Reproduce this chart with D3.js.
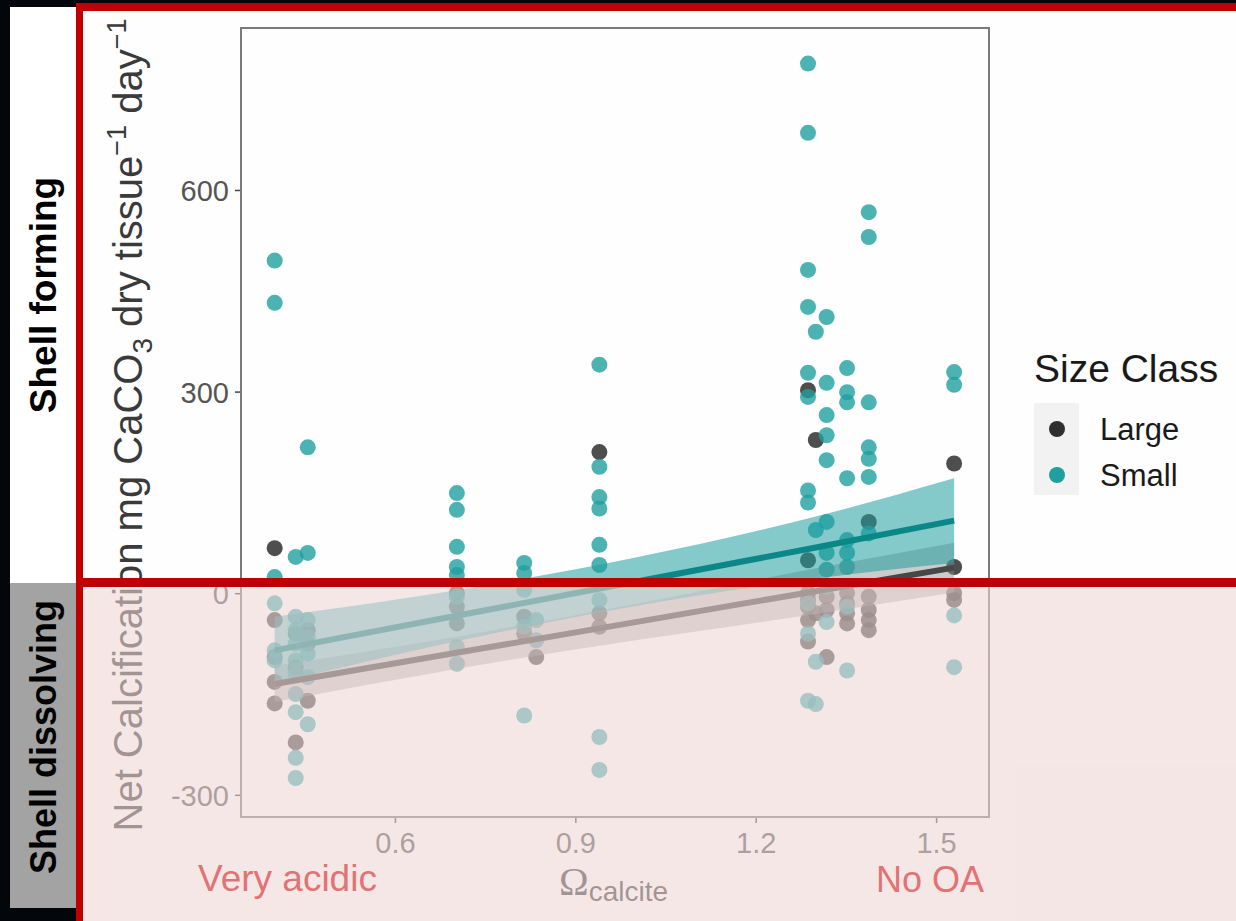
<!DOCTYPE html>
<html>
<head>
<meta charset="utf-8">
<script src="https://cdn.jsdelivr.net/npm/d3@7"></script>
<style>
  body { margin: 0; background: #03060a; }
  svg { display: block; }
</style>
</head>
<body>
<svg id="chart" width="1236" height="921"></svg>
<script>
const largeObs = [
  [0.40, 67], [0.40, -40], [0.40, -95], [0.40, -132], [0.40, -164],
  [0.435, -60], [0.435, -110], [0.435, -222],
  [0.455, -55], [0.455, -75], [0.455, -160],
  [0.703, 0], [0.703, -20], [0.703, -45],
  [0.815, -35], [0.815, -60],
  [0.835, -95],
  [0.94, 210], [0.94, -30], [0.94, -50],
  [1.287, 302], [1.287, 49], [1.287, 0], [1.287, -10], [1.287, -20], [1.287, -40], [1.287, -72],
  [1.30, 228], [1.30, -30],
  [1.318, -95], [1.318, -25], [1.318, -5],
  [1.352, -45], [1.352, -30], [1.352, -15], [1.352, 0],
  [1.388, 106], [1.388, -40], [1.388, -55], [1.388, -25], [1.388, -5],
  [1.53, 193], [1.53, 39], [1.53, 0], [1.53, -10]
];

const smallObs = [
  [0.40, 495], [0.40, 432], [0.40, 24], [0.40, -15], [0.40, -85], [0.40, -100],
  [0.435, 54], [0.435, -35], [0.435, -55], [0.435, -75], [0.435, -100], [0.435, -120],
  [0.435, -150], [0.435, -177], [0.435, -245], [0.435, -275],
  [0.455, 217], [0.455, 60], [0.455, -40], [0.455, -65], [0.455, -90], [0.455, -125], [0.455, -195],
  [0.703, 149], [0.703, 124], [0.703, 69], [0.703, 39], [0.703, 27], [0.703, -5], [0.703, -80], [0.703, -105],
  [0.815, 45], [0.815, 30], [0.815, 5], [0.815, -50], [0.815, -182],
  [0.835, -40], [0.835, -70],
  [0.94, 340], [0.94, 188], [0.94, 143], [0.94, 126], [0.94, 72], [0.94, 42], [0.94, -10], [0.94, -214], [0.94, -263],
  [1.287, 788], [1.287, 685], [1.287, 481], [1.287, 426], [1.287, 328], [1.287, 292],
  [1.287, 153], [1.287, 135], [1.287, -15], [1.287, -60], [1.287, -160],
  [1.30, 389], [1.30, 94], [1.30, -102], [1.30, -165],
  [1.318, 411], [1.318, 313], [1.318, 265], [1.318, 235], [1.318, 198], [1.318, 106],
  [1.318, 60], [1.318, 35], [1.318, 10], [1.318, -43],
  [1.352, 335], [1.352, 299], [1.352, 284], [1.352, 171], [1.352, 79], [1.352, 60], [1.352, 39], [1.352, -20], [1.352, -115],
  [1.388, 567], [1.388, 530], [1.388, 284], [1.388, 217], [1.388, 200], [1.388, 173], [1.388, 89],
  [1.53, 329], [1.53, 310], [1.53, -33], [1.53, -110]
];

// fitted lines and confidence bands
const fitOmega = [0.40, 0.70, 1.00, 1.30, 1.53];
const smallFit = [-85, -34, 17, 68, 108];
const smallLow = [-135, -72, -19, 22, 45];
const smallHigh = [-35, 4, 53, 114, 171];
const largeFit = [-135, -89, -43, 3, 38];
const largeLow = [-162, -113, -70, -31, 1];
const largeHigh = [-108, -65, -16, 37, 75];

const xTicks = [0.6, 0.9, 1.2, 1.5];
const yTicks = [-300, 0, 300, 600];
const sizeClasses = ["Large", "Small"];
const classColors = { Large: "#2f2f2f", Small: "#1f9f9f" };
const lineColors = { Large: "#474747", Small: "#0b8787" };

const sans = "'Liberation Sans', Arial, sans-serif";
const svg = d3.select("#chart");

// ---- page frame: left strip and red box ----
svg.append("rect").attr("x", 10).attr("y", 7).attr("width", 66).attr("height", 576).attr("fill", "#ffffff");
svg.append("rect").attr("x", 10).attr("y", 583).attr("width", 66).attr("height", 325).attr("fill", "#a3a3a3");
svg.append("rect").attr("x", 83).attr("y", 11).attr("width", 1153).attr("height", 910).attr("fill", "#fefefe");

svg.append("text")
  .attr("transform", "translate(56,295) rotate(-90)")
  .attr("text-anchor", "middle")
  .style("font-family", sans).style("font-weight", "bold").style("font-size", "37px")
  .attr("fill", "#000").text("Shell forming");
svg.append("text")
  .attr("transform", "translate(56,737) rotate(-90)")
  .attr("text-anchor", "middle")
  .style("font-family", sans).style("font-weight", "bold").style("font-size", "36px")
  .attr("fill", "#000").text("Shell dissolving");

// ---- scales ----
const x = d3.scaleLinear().domain([0.344, 1.588]).range([241, 989]);
const y = d3.scaleLinear().domain([-333, 841]).range([817, 28]);

const plot = svg.append("g");

// axes
const yAxis = plot.append("g")
  .attr("transform", "translate(241,0)")
  .call(d3.axisLeft(y).tickValues(yTicks).tickSize(6).tickPadding(6).tickFormat(d => String(d)));
const xAxis = plot.append("g")
  .attr("transform", "translate(0,817)")
  .call(d3.axisBottom(x).tickValues(xTicks).tickSize(6).tickPadding(9).tickFormat(d3.format(".1f")));
[xAxis, yAxis].forEach(ax => {
  ax.select(".domain").remove();
  ax.selectAll(".tick line").attr("stroke", "#444").attr("stroke-width", 1.5);
  ax.selectAll(".tick text").attr("fill", "#555").style("font-family", sans).style("font-size", "29px");
});
yAxis.selectAll(".tick text").attr("dy", "0.36em");

// points
svg.append("defs").append("clipPath").attr("id", "panel")
  .append("rect").attr("x", 241).attr("y", 28).attr("width", 748).attr("height", 789);
const marks = plot.append("g").attr("clip-path", "url(#panel)");

marks.selectAll("circle.large").data(largeObs).join("circle")
  .attr("class", "large")
  .attr("cx", d => x(d[0])).attr("cy", d => y(d[1])).attr("r", 8)
  .attr("fill", classColors.Large).attr("fill-opacity", 0.85);
marks.selectAll("circle.small").data(smallObs).join("circle")
  .attr("class", "small")
  .attr("cx", d => x(d[0])).attr("cy", d => y(d[1])).attr("r", 8)
  .attr("fill", classColors.Small).attr("fill-opacity", 0.8);

// confidence bands and fitted lines
const bands = [
  { key: "Large", fit: largeFit, low: largeLow, high: largeHigh, fill: "#8f8f8f", op: 0.45 },
  { key: "Small", fit: smallFit, low: smallLow, high: smallHigh, fill: "#1f9f9f", op: 0.55 }
];
bands.forEach(b => {
  const rows = fitOmega.map((o, i) => ({ o, fit: b.fit[i], low: b.low[i], high: b.high[i] }));
  marks.append("path").datum(rows)
    .attr("fill", b.fill).attr("fill-opacity", b.op)
    .attr("d", d3.area().x(d => x(d.o)).y0(d => y(d.low)).y1(d => y(d.high)).curve(d3.curveMonotoneX));
});
bands.forEach(b => {
  const rows = fitOmega.map((o, i) => ({ o, fit: b.fit[i] }));
  marks.append("path").datum(rows)
    .attr("fill", "none").attr("stroke", lineColors[b.key]).attr("stroke-width", 6)
    .attr("d", d3.line().x(d => x(d.o)).y(d => y(d.fit)));
});

// panel border
plot.append("rect").attr("x", 241).attr("y", 28).attr("width", 748).attr("height", 789)
  .attr("fill", "none").attr("stroke", "#7a7a7a").attr("stroke-width", 2);

// axis titles
const yTitle = svg.append("text")
  .attr("transform", "translate(142,425) rotate(-90)")
  .attr("text-anchor", "middle")
  .style("font-family", sans).style("font-size", "40px").attr("fill", "#3a3a3a");
yTitle.append("tspan").text("Net Calcification mg CaCO");
yTitle.append("tspan").attr("dy", 10).style("font-size", "28px").text("3");
yTitle.append("tspan").attr("dy", -10).text(" dry tissue");
yTitle.append("tspan").attr("dy", -16).style("font-size", "27px").text("\u22121");
yTitle.append("tspan").attr("dy", 16).text(" day");
yTitle.append("tspan").attr("dy", -16).style("font-size", "27px").text("\u22121");

const xTitle = svg.append("text").attr("x", 559).attr("y", 895).attr("fill", "#3a3a3a");
xTitle.append("tspan").style("font-family", "'Liberation Serif', 'Times New Roman', serif").style("font-size", "40px").text("\u03A9");
xTitle.append("tspan").attr("dy", 6).style("font-family", sans).style("font-size", "28px").text("calcite");

// legend
const legend = svg.append("g").attr("transform", "translate(1034,0)");
legend.append("text").attr("x", 0).attr("y", 382)
  .style("font-family", sans).style("font-size", "39px").attr("fill", "#1a1a1a").text("Size Class");
legend.selectAll("g.key").data(sizeClasses).join("g")
  .attr("class", "key")
  .attr("transform", (d, i) => `translate(0,${403 + i * 46})`)
  .each(function (d) {
    const g = d3.select(this);
    g.append("rect").attr("width", 45).attr("height", 46).attr("fill", "#f2f2f2");
    g.append("circle").attr("cx", 23).attr("cy", 26).attr("r", 8).attr("fill", classColors[d]);
    g.append("text").attr("x", 66).attr("y", 37)
      .style("font-family", sans).style("font-size", "31px").attr("fill", "#1a1a1a").text(d);
  });

// pink wash over the dissolving half
svg.append("rect").attr("x", 83).attr("y", 587).attr("width", 1153).attr("height", 334)
  .attr("fill", "#efd5d5").attr("fill-opacity", 0.58);

svg.append("text").attr("x", 198).attr("y", 891)
  .style("font-family", sans).style("font-size", "37px").attr("fill", "#e07474").text("Very acidic");
svg.append("text").attr("x", 876).attr("y", 892)
  .style("font-family", sans).style("font-size", "36px").attr("fill", "#e07474").text("No OA");

// red box edges
svg.append("rect").attr("x", 76).attr("y", 3).attr("width", 7).attr("height", 918).attr("fill", "#c00000");
svg.append("rect").attr("x", 76).attr("y", 3).attr("width", 1160).attr("height", 8).attr("fill", "#c00000");
svg.append("rect").attr("x", 76).attr("y", 578).attr("width", 1160).attr("height", 9).attr("fill", "#c00000");
</script>
</body>
</html>
